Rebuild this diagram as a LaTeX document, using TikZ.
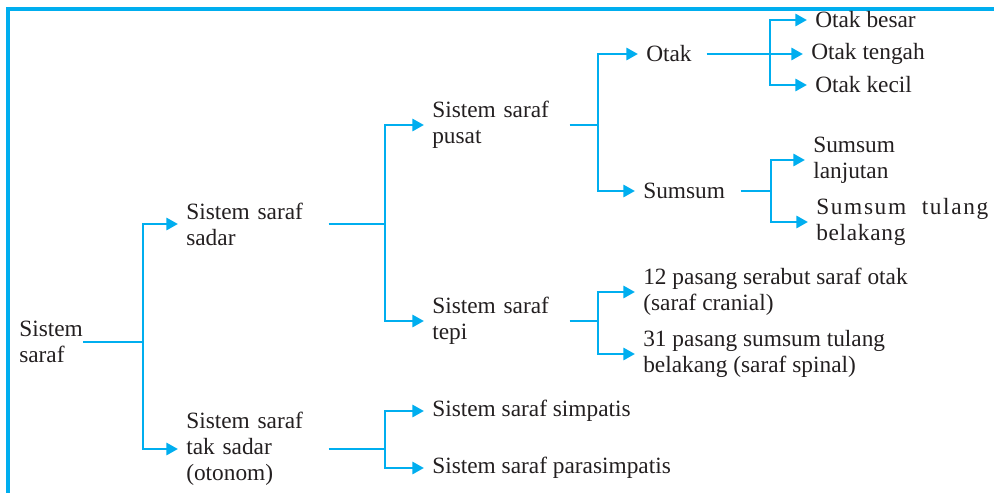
\documentclass[tikz,border=0pt]{standalone}
\usepackage{fontspec}
\setmainfont{Liberation Serif}
\usetikzlibrary{arrows.meta}
\definecolor{sky}{RGB}{0,174,239}
\definecolor{ink}{RGB}{35,31,32}

\begin{document}
\begin{tikzpicture}[
    x=0.025cm,y=-0.025cm,
    txt/.style={anchor=west,inner sep=0pt,align=left,text=ink,font=\fontsize{16.6}{18.5}\selectfont},
    wire/.style={draw=sky,line width=2pt},
    arr/.style={wire,-{Triangle[length=2.9mm,width=3mm]},shorten >=0.2cm},
]
\useasboundingbox (0,0) rectangle (994,493);
\draw[sky,line width=2.3pt] (8,493) |- (994,9);

% level 0 and 1
\node[txt] (root) at (19,342) {Sistem\\saraf};
\node[txt,text width=3.55cm] (sadar) at (186,224) {Sistem saraf\\sadar};
\node[txt,text width=3.55cm] (otonom) at (186,449) {Sistem saraf\\tak sadar\\(otonom)};

% level 2
\node[txt,text width=3.425cm] (pusat) at (432,125) {Sistem saraf\\pusat};
\node[txt,text width=3.425cm] (tepi) at (432,321) {Sistem saraf\\tepi};
\node[txt] (simpatis) at (432,411) {Sistem saraf simpatis};
\node[txt] (parasimpatis) at (432,468) {Sistem saraf parasimpatis};

% level 3
\node[txt,text width=1.5cm] (otak) at (646,54) {Otak};
\node[txt,text width=2.425cm] (sumsum) at (643,191) {Sumsum};
\node[txt] (cranial) at (643,292) {12 pasang serabut saraf otak\\(saraf cranial)};
\node[txt] (spinal) at (643,354) {31 pasang sumsum tulang\\belakang (saraf spinal)};

% level 4
\node[txt] (besar) at (815,20) {Otak besar};
\node[txt] (tengah) at (811,54) {Otak tengah};
\node[txt] (kecil) at (815,85) {Otak kecil};
\node[txt] (lanjutan) at (813,160) {Sumsum\\lanjutan};
\node[txt,text width=4.3cm] (tulang) at (816,222) {{\addfontfeature{LetterSpace=7}Sumsum}\hfill{\addfontfeature{LetterSpace=7}tulang}\\{\addfontfeature{LetterSpace=3}belakang}};

% junctions
\coordinate (j1) at (143,339);
\coordinate (j2) at (385,228);
\coordinate (j3) at (385,444);
\coordinate (j4) at (598,125);
\coordinate (j5) at (598,323);
\coordinate (j6) at (770,54);
\coordinate (j7) at (771,193);

\draw[wire] (root.east) -- (root.east -| j1);
\draw[arr] (j1) |- (sadar.west); \draw[arr] (j1) |- (otonom.west);

\draw[wire] (sadar.east) -- (sadar.east -| j2);
\draw[arr] (j2) |- (pusat.west); \draw[arr] (j2) |- (tepi.west);

\draw[wire] (otonom.east) -- (otonom.east -| j3);
\draw[arr] (j3) |- (simpatis.west); \draw[arr] (j3) |- (parasimpatis.west);

\draw[wire] (pusat.east) -- (pusat.east -| j4);
\draw[arr] (j4) |- (otak.west); \draw[arr] (j4) |- (sumsum.west);

\draw[wire] (tepi.east) -- (tepi.east -| j5);
\draw[arr] (j5) |- (cranial.west); \draw[arr] (j5) |- (spinal.west);

\draw[arr] (otak.east) -- (tengah.west);
\draw[arr] (j6) |- (besar.west); \draw[arr] (j6) |- (kecil.west);

\draw[wire] (sumsum.east) -- (sumsum.east -| j7);
\draw[arr] (j7) |- (lanjutan.west); \draw[arr] (j7) |- (tulang.west);
\end{tikzpicture}
\end{document}
